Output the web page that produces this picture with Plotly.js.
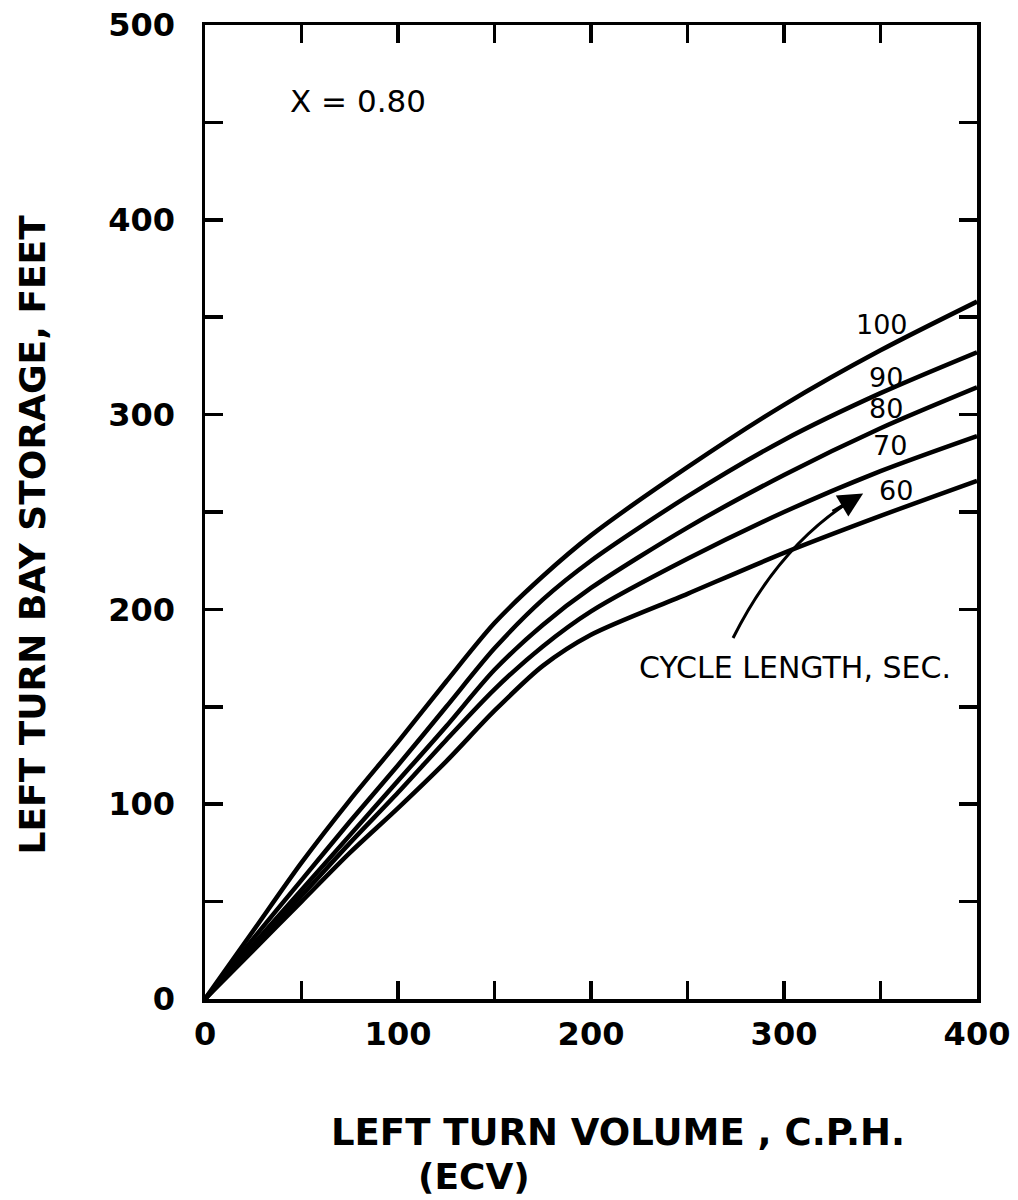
<!DOCTYPE html>
<html>
<head>
<meta charset="utf-8">
<script src="https://cdn.plot.ly/plotly-3.0.1.min.js"></script>
<style>html,body{margin:0;padding:0;background:#fff;}#chart{width:1018px;height:1200px;}</style>
</head>
<body>
<div id="chart"></div>
<script>
// Left turn volume (C.P.H., ECV)
const volume = [0, 25, 50, 75, 100, 125, 150, 175, 200, 250, 300, 350, 400];
// Left turn bay storage (feet) for each cycle length (sec)
const storage100 = [0, 35, 70, 102, 132, 163, 193, 217, 238, 273, 305, 333, 358];
const storage90  = [0, 31, 61, 91, 120, 150, 180, 205, 225, 258, 287, 311, 332];
const storage80  = [0, 28, 56, 84, 112, 140, 169, 192, 211, 242, 269, 293, 314];
const storage70  = [0, 27, 53, 80, 106, 133, 159, 181, 199, 226, 250, 271, 289];
const storage60  = [0, 25, 50, 75, 98, 122, 148, 171, 187, 208, 229, 248, 266];
const cycleLabels = ["100", "90", "80", "70", "60"];
const cycleLabelX = [351, 353, 353, 355, 358];
const cycleLabelY = [346, 319, 303, 284, 261];

const xTickVals = [0, 50, 100, 150, 200, 250, 300, 350, 400];
const xTickText = ["0", "", "100", "", "200", "", "300", "", "400"];
const yTickVals = [0, 50, 100, 150, 200, 250, 300, 350, 400, 450, 500];
const yTickText = ["0", "", "100", "", "200", "", "300", "", "400", "", "500"];

const FONT = "DejaVu Sans, Liberation Sans, sans-serif";
const series = [storage100, storage90, storage80, storage70, storage60];

const traces = series.map((ys, i) => ({
  x: volume, y: ys, type: "scatter", mode: "lines",
  line: {color: "#000", width: 4.5, shape: "spline", smoothing: 0.8},
  name: cycleLabels[i], showlegend: false, hoverinfo: "skip"
}));

const axisCommon = {
  ticks: "inside", ticklen: 18, tickwidth: 3.5, tickcolor: "#000",
  showline: true, linewidth: 3.5, linecolor: "#000", mirror: "allticks",
  showgrid: false, zeroline: false,
  tickfont: {family: FONT, size: 32, color: "#000", weight: "bold"}
};

const annotations = [
  {xref: "paper", yref: "paper", x: 0.198, y: 0.922, xanchor: "center", yanchor: "middle",
   text: "X = 0.80", showarrow: false, font: {family: FONT, size: 31, color: "#000"}},
  {xref: "paper", yref: "paper", x: 0.764, y: 0.34, xanchor: "center", yanchor: "middle",
   text: "CYCLE LENGTH, SEC.", showarrow: false, font: {family: FONT, size: 30, color: "#000"}},
  {xref: "paper", yref: "paper", x: -0.224, y: 0.477, xanchor: "center", yanchor: "middle",
   text: "LEFT TURN BAY STORAGE, FEET", textangle: -90, showarrow: false,
   font: {family: FONT, size: 36, color: "#000", weight: "bold"}},
  {xref: "paper", yref: "paper", x: 0.535, y: -0.137, xanchor: "center", yanchor: "middle",
   text: "LEFT TURN VOLUME , C.P.H.", showarrow: false,
   font: {family: FONT, size: 37, color: "#000", weight: "bold"}},
  {xref: "paper", yref: "paper", x: 0.349, y: -0.182, xanchor: "center", yanchor: "middle",
   text: "(ECV)", showarrow: false,
   font: {family: FONT, size: 36, color: "#000", weight: "bold"}},
  // arrow head of the curved pointer
  {xref: "x", yref: "y", x: 341, y: 259.5, ax: -32, ay: 19, axref: "pixel", ayref: "pixel",
   text: "", showarrow: true, arrowhead: 2, arrowsize: 1.4, arrowwidth: 3.5, arrowcolor: "#000"}
];
cycleLabels.forEach((lab, i) => {
  annotations.push({xref: "x", yref: "y", x: cycleLabelX[i], y: cycleLabelY[i], xanchor: "center", yanchor: "middle",
    text: lab, showarrow: false, font: {family: FONT, size: 27, color: "#000"}});
});

const layout = {
  width: 1018, height: 1200,
  margin: {l: 205, r: 41, t: 25, b: 201},
  paper_bgcolor: "#fff", plot_bgcolor: "#fff",
  showlegend: false,
  xaxis: Object.assign({}, axisCommon, {range: [0, 400], tickvals: xTickVals, ticktext: xTickText, ticklabelstandoff: 4}),
  yaxis: Object.assign({}, axisCommon, {range: [0, 500], tickvals: yTickVals, ticktext: yTickText, ticklabelstandoff: 20}),
  annotations: annotations,
  shapes: [
    {type: "path", xref: "x", yref: "y",
     path: "M 273.6 185.3 Q 297.4 232.5 335 256",
     line: {color: "#000", width: 3}}
  ]
};

Plotly.newPlot("chart", traces, layout, {staticPlot: true, displayModeBar: false});
</script>
</body>
</html>
